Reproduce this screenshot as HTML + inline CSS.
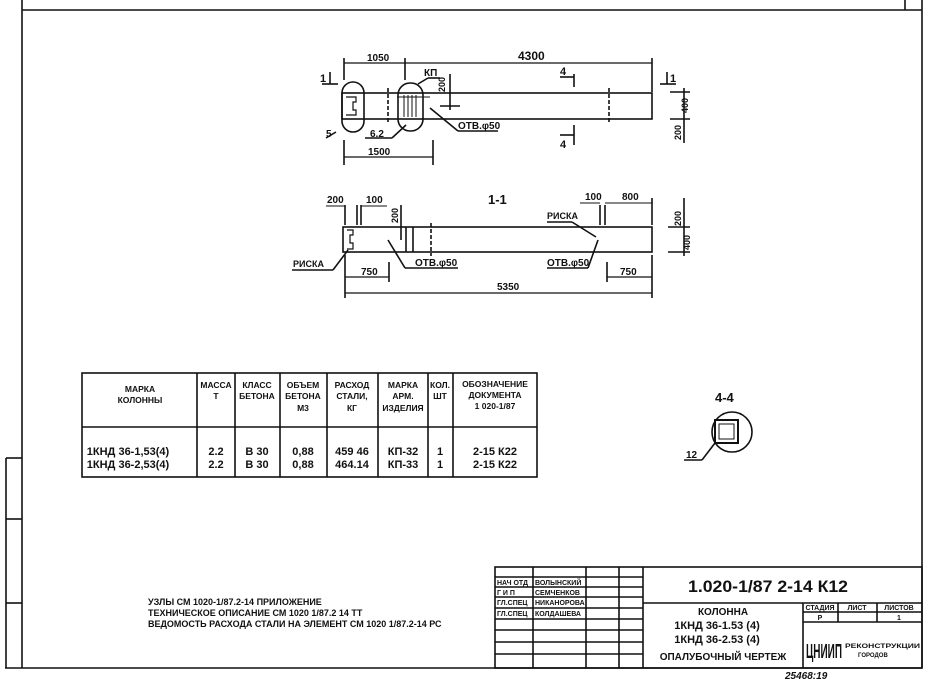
<!DOCTYPE html>
<html><head><meta charset="utf-8"><style>
html,body{margin:0;padding:0;background:#fff;}
svg{display:block;}
text{font-family:"Liberation Sans","DejaVu Sans",sans-serif;font-weight:bold;fill:#111;}
</style></head><body>
<svg width="928" height="679" viewBox="0 0 928 679" xmlns="http://www.w3.org/2000/svg">
<g stroke="#111" fill="none" stroke-width="1.6">
<line x1="22" y1="10" x2="922" y2="10"/>
<line x1="22" y1="0" x2="22" y2="668"/>
<line x1="922" y1="0" x2="922" y2="668"/>
<line x1="5" y1="668" x2="922" y2="668"/>
<line x1="905" y1="0" x2="905" y2="10"/>
<line x1="6" y1="458" x2="6" y2="668"/>
<line x1="6" y1="458" x2="22" y2="458"/>
<line x1="6" y1="519" x2="22" y2="519"/>
<line x1="6" y1="603" x2="22" y2="603"/>

<rect x="342" y="93" width="310" height="26"/>
<rect x="342" y="82" width="22" height="50" rx="11"/>
<rect x="398" y="83" width="25" height="48" rx="12"/>
<path d="M346 97 h10 v5 h-3 v8 h3 v5 h-10" stroke-width="1.2"/>
<line x1="388" y1="88" x2="388" y2="124" stroke-dasharray="4,2"/>
<line x1="404" y1="95" x2="404" y2="117" stroke-width="1"/>
<line x1="408" y1="95" x2="408" y2="117" stroke-width="1"/>
<line x1="412" y1="95" x2="412" y2="117" stroke-width="1"/>
<line x1="416" y1="95" x2="416" y2="117" stroke-width="1"/>
<line x1="397" y1="97" x2="430" y2="97" stroke-width="1"/>
<line x1="609" y1="88" x2="609" y2="124" stroke-dasharray="4,2"/>
<line x1="344" y1="63" x2="652" y2="63" stroke-width="1.2"/>
<line x1="344" y1="58" x2="344" y2="80"/>
<line x1="405" y1="58" x2="405" y2="80"/>
<line x1="652" y1="58" x2="652" y2="92"/>
<line x1="344" y1="157" x2="433" y2="157" stroke-width="1.2"/>
<line x1="344" y1="140" x2="344" y2="165"/>
<line x1="433" y1="140" x2="433" y2="165"/>
<line x1="450" y1="74" x2="450" y2="110"/>
<line x1="440" y1="106" x2="460" y2="106"/>
<line x1="430" y1="108" x2="458" y2="131"/>
<line x1="458" y1="131" x2="498" y2="131"/>
<line x1="418" y1="84" x2="428" y2="78"/>
<line x1="428" y1="78" x2="440" y2="78"/>
<line x1="336" y1="132" x2="326" y2="138"/>
<line x1="406" y1="125" x2="392" y2="138"/>
<line x1="365" y1="138" x2="392" y2="138"/>
<line x1="322" y1="84" x2="338" y2="84"/>
<line x1="330" y1="72" x2="330" y2="84"/>
<line x1="660" y1="84" x2="676" y2="84"/>
<line x1="667" y1="72" x2="667" y2="84"/>
<line x1="574" y1="74" x2="574" y2="87"/>
<line x1="560" y1="77" x2="574" y2="77"/>
<line x1="574" y1="125" x2="574" y2="145"/>
<line x1="560" y1="135" x2="574" y2="135"/>
<line x1="684" y1="88" x2="684" y2="143"/>
<line x1="670" y1="92" x2="690" y2="92"/>
<line x1="670" y1="119" x2="690" y2="119"/>

<rect x="343" y="227" width="309" height="25"/>
<line x1="406" y1="227" x2="406" y2="252"/>
<line x1="413" y1="227" x2="413" y2="252"/>
<line x1="431" y1="223" x2="431" y2="256" stroke-dasharray="4,2"/>
<path d="M347 230 h6 v5 h-3 v8 h3 v6 h-6" stroke-width="1.2"/>
<line x1="345" y1="205" x2="345" y2="225"/>
<line x1="357" y1="205" x2="357" y2="225"/>
<line x1="361" y1="205" x2="361" y2="225"/>
<line x1="326" y1="206" x2="345" y2="206" stroke-width="1"/>
<line x1="361" y1="206" x2="387" y2="206" stroke-width="1"/>
<line x1="401" y1="205" x2="401" y2="240"/>
<line x1="600" y1="205" x2="600" y2="225"/>
<line x1="605" y1="205" x2="605" y2="225"/>
<line x1="580" y1="203" x2="600" y2="203" stroke-width="1"/>
<line x1="605" y1="203" x2="652" y2="203" stroke-width="1"/>
<line x1="652" y1="198" x2="652" y2="225"/>
<line x1="345" y1="277" x2="389" y2="277" stroke-width="1.2"/>
<line x1="389" y1="262" x2="389" y2="282"/>
<line x1="607" y1="277" x2="652" y2="277" stroke-width="1.2"/>
<line x1="607" y1="262" x2="607" y2="282"/>
<line x1="345" y1="293" x2="652" y2="293" stroke-width="1.2"/>
<line x1="345" y1="255" x2="345" y2="298"/>
<line x1="652" y1="255" x2="652" y2="298"/>
<line x1="348" y1="250" x2="333" y2="270"/>
<line x1="292" y1="270" x2="333" y2="270"/>
<line x1="388" y1="240" x2="405" y2="268"/>
<line x1="405" y1="268" x2="458" y2="268"/>
<line x1="598" y1="240" x2="588" y2="268"/>
<line x1="547" y1="268" x2="588" y2="268"/>
<line x1="572" y1="222" x2="596" y2="237"/>
<line x1="547" y1="222" x2="572" y2="222"/>
<line x1="684" y1="198" x2="684" y2="256"/>
<line x1="668" y1="227" x2="690" y2="227"/>
<line x1="668" y1="252" x2="690" y2="252"/>

<rect x="82" y="373" width="455" height="104"/>
<line x1="82" y1="427" x2="537" y2="427"/>
<line x1="197" y1="373" x2="197" y2="477"/>
<line x1="235" y1="373" x2="235" y2="477"/>
<line x1="280" y1="373" x2="280" y2="477"/>
<line x1="327" y1="373" x2="327" y2="477"/>
<line x1="378" y1="373" x2="378" y2="477"/>
<line x1="428" y1="373" x2="428" y2="477"/>
<line x1="453" y1="373" x2="453" y2="477"/>

<circle cx="732" cy="432" r="20"/>
<rect x="715" y="420" width="23" height="23" stroke-width="2"/>
<rect x="719" y="424" width="15" height="15" stroke-width="1"/>
<line x1="715" y1="443" x2="702" y2="460"/>
<line x1="684" y1="460" x2="702" y2="460"/>

<rect x="495" y="567" width="427" height="101"/>
<line x1="533" y1="567" x2="533" y2="668"/>
<line x1="586" y1="567" x2="586" y2="668"/>
<line x1="619" y1="567" x2="619" y2="668"/>
<line x1="643" y1="567" x2="643" y2="668"/>
<line x1="495" y1="577" x2="643" y2="577"/>
<line x1="495" y1="587" x2="643" y2="587"/>
<line x1="495" y1="597" x2="643" y2="597"/>
<line x1="495" y1="608" x2="643" y2="608"/>
<line x1="495" y1="619" x2="643" y2="619"/>
<line x1="495" y1="630" x2="643" y2="630"/>
<line x1="495" y1="642" x2="643" y2="642"/>
<line x1="495" y1="654" x2="643" y2="654"/>
<line x1="643" y1="603" x2="922" y2="603"/>
<line x1="803" y1="603" x2="803" y2="668"/>
<line x1="803" y1="612" x2="922" y2="612"/>
<line x1="803" y1="622" x2="922" y2="622"/>
<line x1="838" y1="603" x2="838" y2="622"/>
<line x1="877" y1="603" x2="877" y2="622"/>
</g>

<g font-size="10">
<text x="367" y="61">1050</text>
<text x="518" y="60" font-size="12">4300</text>
<text x="368" y="155">1500</text>
<text x="424" y="76">КП</text>
<text x="326" y="137">5</text>
<text x="370" y="137">6.2</text>
<text x="458" y="129">ОТВ.φ50</text>
<text x="320" y="82" font-size="11">1</text>
<text x="670" y="82" font-size="11">1</text>
<text x="560" y="75" font-size="11">4</text>
<text x="560" y="148" font-size="11">4</text>
<text transform="translate(445,92) rotate(-90)" font-size="9">200</text>
<text transform="translate(688,113) rotate(-90)" font-size="9">400</text>
<text transform="translate(681,140) rotate(-90)" font-size="9">200</text>
<text x="488" y="204" font-size="13">1-1</text>
<text x="327" y="203">200</text>
<text x="366" y="203">100</text>
<text x="585" y="200">100</text>
<text x="622" y="200">800</text>
<text x="547" y="219" font-size="9">РИСКА</text>
<text x="293" y="267" font-size="9">РИСКА</text>
<text x="415" y="266">ОТВ.φ50</text>
<text x="547" y="266">ОТВ.φ50</text>
<text x="361" y="275">750</text>
<text x="620" y="275">750</text>
<text x="497" y="290">5350</text>
<text transform="translate(398,223) rotate(-90)" font-size="9">200</text>
<text transform="translate(681,226) rotate(-90)" font-size="9">200</text>
<text transform="translate(690,250) rotate(-90)" font-size="9">400</text>
</g>

<g font-size="8.5" text-anchor="middle">
<text x="140" y="392">МАРКА</text><text x="140" y="403">КОЛОННЫ</text>
<text x="216" y="388">МАССА</text><text x="216" y="399">Т</text>
<text x="257" y="388">КЛАСС</text><text x="257" y="399">БЕТОНА</text>
<text x="303" y="388">ОБЪЕМ</text><text x="303" y="399">БЕТОНА</text><text x="303" y="411">М3</text>
<text x="352" y="388">РАСХОД</text><text x="352" y="399">СТАЛИ,</text><text x="352" y="411">КГ</text>
<text x="403" y="388">МАРКА</text><text x="403" y="399">АРМ.</text><text x="403" y="411">ИЗДЕЛИЯ</text>
<text x="440" y="388">КОЛ.</text><text x="440" y="399">ШТ</text>
<text x="495" y="387">ОБОЗНАЧЕНИЕ</text><text x="495" y="398">ДОКУМЕНТА</text><text x="495" y="409">1 020-1/87</text>
<g font-size="11" font-weight="normal">
<text x="128" y="455">1КНД 36-1,53(4)</text><text x="128" y="468">1КНД 36-2,53(4)</text>
<text x="216" y="455">2.2</text><text x="216" y="468">2.2</text>
<text x="257" y="455">В 30</text><text x="257" y="468">В 30</text>
<text x="303" y="455">0,88</text><text x="303" y="468">0,88</text>
<text x="352" y="455">459 46</text><text x="352" y="468">464.14</text>
<text x="403" y="455">КП-32</text><text x="403" y="468">КП-33</text>
<text x="440" y="455">1</text><text x="440" y="468">1</text>
<text x="495" y="455">2-15 К22</text><text x="495" y="468">2-15 К22</text>
</g>
</g>

<text x="715" y="402" font-size="13">4-4</text>
<text x="686" y="458" font-size="10">12</text>

<g font-size="9">
<text x="148" y="605">УЗЛЫ СМ 1020-1/87.2-14 ПРИЛОЖЕНИЕ</text>
<text x="148" y="616">ТЕХНИЧЕСКОЕ ОПИСАНИЕ СМ 1020 1/87.2 14 ТТ</text>
<text x="148" y="627">ВЕДОМОСТЬ РАСХОДА СТАЛИ НА ЭЛЕМЕНТ СМ 1020 1/87.2-14 РС</text>
</g>

<g font-size="7">
<text x="497" y="585">НАЧ ОТД</text><text x="535" y="585">ВОЛЫНСКИЙ</text>
<text x="497" y="595">Г И П</text><text x="535" y="595">СЕМЧЕНКОВ</text>
<text x="497" y="605">ГЛ.СПЕЦ</text><text x="535" y="605">НИКАНОРОВА</text>
<text x="497" y="616">ГЛ.СПЕЦ</text><text x="535" y="616">КОЛДАШЕВА</text>
</g>
<text x="688" y="592" font-size="17" font-weight="normal" textLength="160" lengthAdjust="spacingAndGlyphs">1.020-1/87 2-14 К12</text>
<g font-size="10" text-anchor="middle">
<text x="723" y="615">КОЛОННА</text>
<text x="717" y="629" font-weight="normal" font-size="11">1КНД 36-1.53 (4)</text>
<text x="717" y="643" font-weight="normal" font-size="11">1КНД 36-2.53 (4)</text>
<text x="723" y="660">ОПАЛУБОЧНЫЙ ЧЕРТЕЖ</text>
</g>
<g font-size="7" text-anchor="middle">
<text x="820" y="610">СТАДИЯ</text><text x="857" y="610">ЛИСТ</text><text x="899" y="610">ЛИСТОВ</text>
<text x="820" y="620">Р</text><text x="899" y="620">1</text>
</g>
<text x="806" y="658" font-size="20" font-weight="normal" textLength="36" lengthAdjust="spacingAndGlyphs">ЦНИИП</text>
<text x="845" y="648" font-size="6" textLength="75" lengthAdjust="spacingAndGlyphs">РЕКОНСТРУКЦИИ</text>
<text x="858" y="657" font-size="6">ГОРОДОВ</text>
<text x="785" y="679" font-size="10" font-style="italic" font-weight="normal">25468:19</text>
</svg>
</body></html>
